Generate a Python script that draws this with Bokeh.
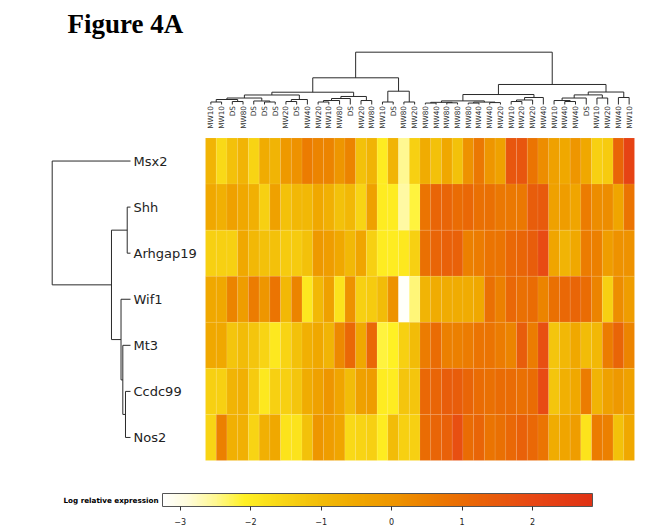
import math
from bokeh.plotting import figure
from bokeh.models import (ColumnDataSource, LinearColorMapper, ColorBar, FixedTicker,
                          Range1d, Label)
from bokeh.core.properties import value
from bokeh.embed import file_html
from bokeh.resources import INLINE

# ---------------- data ----------------
samples = ["MW10", "MW10", "DS", "MW80", "DS", "DS", "DS", "MW20", "DS", "MW40",
           "MW20", "MW10", "MW80", "DS", "MW20", "MW80", "MW10", "DS", "MW80", "MW20",
           "MW80", "MW40", "MW80", "MW80", "MW80", "MW40", "MW40", "MW20", "MW10", "MW20",
           "MW20", "MW40", "MW10", "MW40", "MW40", "DS", "MW10", "MW20", "MW40", "MW10"]
genes = ["Msx2", "Shh", "Arhgap19", "Wif1", "Mt3", "Ccdc99", "Nos2"]

msx2 = [-0.8, -1.6, -1.1, -0.8, -1.5, -0.6, -0.8, -0.1, 0.1, 0.6,
        0.4, 0.4, 0.0, 0.4, -1.1, -0.8, -2.0, -0.8, -2.5, -1.4,
        -0.6, -1.1, -0.5, -1.1, 0.1, 0.7, 0.0, -0.3, 1.6, 1.6,
        0.8, 0.2, -0.3, -0.5, 0.0, -0.5, -1.4, -1.3, 1.2, 2.2]
shh = [-0.5, -0.7, -0.3, -0.5, -0.7, -1.4, -0.3, -1.1, -0.9, -0.9,
       -0.5, -0.7, -1.1, -0.9, -1.5, -0.3, -2.0, -2.0, -2.6, -2.2,
       0.8, 1.2, 1.2, 1.0, 1.1, 0.9, 0.9, 0.7, 0.7, 0.7,
       1.4, 1.5, -0.3, -0.2, -0.4, 0.6, 0.2, 0.2, -0.4, 0.8]
arhgap19 = [-1.4, -1.4, -1.4, -0.5, -0.9, -1.1, -1.1, -1.3, -1.3, -1.1,
            -0.1, -0.2, -0.5, -0.9, -0.4, -1.4, -2.0, -2.0, -1.9, -1.4,
            0.9, 1.2, 1.3, 1.3, 0.5, 0.6, 0.8, 0.8, 1.1, 1.2,
            1.4, 1.9, -0.4, -0.8, -0.5, 0.6, 0.5, -0.2, 0.1, 0.1]
wif1 = [-0.5, -0.5, 0.4, -0.2, 0.6, 0.0, 0.8, -0.9, 0.4, -1.9,
        -0.9, -0.3, -1.8, 0.1, -1.4, -1.3, -1.0, 0.1, -3.2, -2.4,
        -0.8, -0.6, -0.6, -0.6, -0.6, -0.5, 0.9, 0.5, 1.1, 0.9,
        1.0, 0.4, 0.9, 1.1, 1.2, 1.0, 0.4, -1.4, 0.2, -0.2]
mt3 = [-0.5, -0.5, -1.2, -1.0, -1.2, -1.5, -1.9, -1.5, -1.1, -0.7,
       -0.5, -0.8, 0.3, 1.1, -0.5, 1.1, -2.2, -2.1, -1.4, -1.0,
       0.6, 1.0, 0.5, 0.5, 0.6, 0.8, 0.8, 0.6, 0.4, 1.4,
       0.6, 1.8, -1.2, -0.9, -0.5, -1.0, -0.9, 0.6, 1.2, 0.4]
ccdc99 = [-1.4, -1.4, -0.8, -0.7, -1.3, -1.9, -1.4, -1.4, -1.2, -0.6,
          -0.3, 0.0, -0.4, -1.0, -0.3, -0.2, -2.0, -2.0, -1.2, -1.2,
          1.1, 1.2, 1.4, 1.4, 1.2, 1.0, 0.9, 1.0, 1.0, 0.9,
          1.0, 1.9, -1.2, -0.7, -0.5, 0.6, -0.8, -0.3, -0.1, -0.3]
nos2 = [-1.5, 0.5, -0.7, -0.7, -1.5, -0.7, -0.5, -1.8, -1.8, -1.1,
        0.0, -0.2, -0.4, -1.6, -1.5, -1.4, -2.0, -1.0, -1.4, -1.4,
        1.0, 1.2, 1.3, 1.8, 1.0, 1.2, 0.8, 0.9, 1.1, 1.3,
        1.1, 0.8, -0.6, -0.4, -0.2, -1.8, 0.6, 0.5, -1.1, -0.5]
expression = [msx2, shh, arhgap19, wif1, mt3, ccdc99, nos2]

# column dendrogram merges: (child_a, child_b, height); ids < 40 are leaves, 40+k is merge k
col_merges = [(0, 1, 0.52), (2, 3, 0.62), (40, 41, 1.04), (5, 6, 0.52), (4, 43, 0.73),
              (42, 44, 1.35), (7, 8, 0.62), (46, 9, 1.04), (45, 47, 1.98), (10, 11, 0.52),
              (49, 12, 0.83), (50, 13, 1.25), (14, 15, 0.83), (51, 52, 1.67), (48, 53, 2.56),
              (16, 17, 0.52), (18, 19, 0.52), (55, 56, 2.77), (54, 57, 5.56), (20, 21, 0.3),
              (22, 23, 0.35), (59, 60, 0.45), (24, 25, 0.3), (26, 27, 0.4), (62, 63, 0.5),
              (61, 64, 0.75), (28, 29, 0.62), (66, 30, 0.94), (67, 31, 1.46), (65, 68, 2.08),
              (33, 34, 0.62), (32, 70, 0.83), (71, 35, 1.35), (36, 37, 1.35), (72, 73, 2.0),
              (38, 39, 1.46), (74, 75, 2.6), (69, 76, 4.17), (58, 77, 10.9)]
# row dendrogram merges: ids < 7 are genes, 7+k is merge k
row_merges = [(1, 2, 0.42), (5, 6, 0.64), (4, 8, 0.98), (3, 9, 1.21), (7, 10, 2.43), (0, 11, 10.0)]

cbar_ticks = [-3, -2, -1, 0, 1, 2]
cbar_low, cbar_high = -3.25, 2.85

# ---------------- style / layout ----------------
W, H = 649, 531
ORG = 0  # figure origin on the page
HM_L, HM_R, HM_T, HM_B = 205.0, 634.0, 137.5, 460.0
COL_LEAF_Y, COL_PX = 104.0, 4.8      # column dendrogram baseline (px) and px per height unit
ROW_LEAF_X, ROW_PX = 130.0, 7.83     # row dendrogram baseline (px) and px per height unit
ncol, nrow = len(samples), len(genes)
cw = (HM_R - HM_L) / ncol
rh = (HM_B - HM_T) / nrow

def px_x(px):
    return (px - HM_L) / cw

def px_y(py):
    return (HM_B - py) / rh

anchors = [(-3.25, "#FFFFFF"), (-2.9, "#FFFCDA"), (-2.5, "#FFF890"), (-2.1, "#FFF124"),
           (-1.5, "#F8D414"), (-1.0, "#F2BC08"), (-0.5, "#F0A800"), (0.0, "#EE9600"),
           (0.5, "#EC8000"), (1.0, "#EA6C04"), (1.5, "#E85A0C"), (2.0, "#E84814"),
           (2.85, "#E03214")]

def hex2rgb(h):
    return tuple(int(h[i:i + 2], 16) for i in (1, 3, 5))

palette = []
N = 256
for k in range(N):
    v = cbar_low + (cbar_high - cbar_low) * k / (N - 1)
    for j in range(len(anchors) - 1):
        v0, c0 = anchors[j]
        v1, c1 = anchors[j + 1]
        if v0 <= v <= v1 or j == len(anchors) - 2:
            t = min(max((v - v0) / (v1 - v0), 0), 1)
            a, b = hex2rgb(c0), hex2rgb(c1)
            palette.append("#%02x%02x%02x" % tuple(round(a[i] + (b[i] - a[i]) * t) for i in range(3)))
            break

mapper = LinearColorMapper(palette=palette, low=cbar_low, high=cbar_high)

p = figure(width=W, height=H, output_backend="svg", toolbar_location=None,
           x_range=Range1d(px_x(ORG), px_x(ORG + W)),
           y_range=Range1d(px_y(ORG + H), px_y(ORG)),
           x_axis_location=None, y_axis_location=None, min_border=0)
p.grid.visible = False
p.outline_line_color = None
p.background_fill_color = "white"
p.border_fill_color = "white"
p.extra_y_ranges = {"cd": Range1d((COL_LEAF_Y - (ORG + H)) / COL_PX, (COL_LEAF_Y - ORG) / COL_PX)}
p.extra_x_ranges = {"rd": Range1d((ROW_LEAF_X - ORG) / ROW_PX, (ROW_LEAF_X - (ORG + W)) / ROW_PX)}

# heatmap cells
xs, ys, vals = [], [], []
for r, rowvals in enumerate(expression):
    for c, v in enumerate(rowvals):
        xs.append(c + 0.5)
        ys.append(nrow - r - 0.5)
        vals.append(v)
src = ColumnDataSource(dict(x=xs, y=ys, val=vals))
p.rect(x="x", y="y", width=1, height=1, source=src,
       fill_color={"field": "val", "transform": mapper},
       line_color="white", line_alpha=0.15, line_width=0.5)

def tree_segments(merges, n, leaf_pos):
    pos = {i: leaf_pos(i) for i in range(n)}
    hgt = {i: 0.0 for i in range(n)}
    segs = []
    for k, (a, b, h) in enumerate(merges):
        nid = n + k
        pos[nid] = (pos[a] + pos[b]) / 2
        hgt[nid] = h
        segs.append((pos[a], hgt[a], pos[a], h))
        segs.append((pos[b], hgt[b], pos[b], h))
        segs.append((pos[a], h, pos[b], h))
    return segs

cs = tree_segments(col_merges, ncol, lambda i: i + 0.5)
p.segment(x0=[s[0] for s in cs], y0=[s[1] for s in cs], x1=[s[2] for s in cs], y1=[s[3] for s in cs],
          y_range_name="cd", line_color="#2a2a2a", line_width=1)

rs = tree_segments(row_merges, nrow, lambda i: nrow - i - 0.5)
p.segment(x0=[s[1] for s in rs], y0=[s[0] for s in rs], x1=[s[3] for s in rs], y1=[s[2] for s in rs],
          x_range_name="rd", line_color="#2a2a2a", line_width=1)

# column labels
p.text(x=[c + 0.5 for c in range(ncol)], y=[0] * ncol, text=samples, y_range_name="cd",
       angle=math.pi / 2, text_align="right", text_baseline="middle", y_offset=1.5,
       text_font=value("DejaVu Sans"), text_font_size="7.3px", text_color="#333333")
# row labels
p.text(x=[0] * nrow, y=[nrow - r - 0.5 for r in range(nrow)], text=genes, x_range_name="rd",
       x_offset=3, text_align="left", text_baseline="middle",
       text_font=value("DejaVu Sans"), text_font_size="13px", text_color="#222222")

p.add_layout(Label(x=px_x(67), y=px_y(23.5), text="Figure 4A", text_font="Liberation Serif",
                   text_font_style="bold", text_font_size="27px", text_color="black",
                   text_baseline="alphabetic", text_align="left"))
p.add_layout(Label(x=px_x(158), y=px_y(499.5), text="Log relative expression",
                   text_font="DejaVu Sans", text_font_style="bold", text_font_size="7.2px",
                   text_color="black", text_align="right", text_baseline="middle"))

cb = ColorBar(color_mapper=mapper, orientation="horizontal", location=(162, 4),
              width=430, height=13, padding=0, margin=0, title=None,
              ticker=FixedTicker(ticks=cbar_ticks),
              major_label_overrides={t: ("\u2212%d" % -t if t < 0 else "%d" % t) for t in cbar_ticks},
              major_label_text_font="DejaVu Sans", major_label_text_font_size="8px",
              major_label_text_color="#222222", label_standoff=7,
              major_tick_out=4, major_tick_in=0, major_tick_line_color="#333333",
              minor_tick_line_color=None, bar_line_color="#555555",
              background_fill_alpha=0, border_line_color=None)
p.add_layout(cb, "center")

open("out.html", "w").write(file_html(p, INLINE, "Figure 4A"))
